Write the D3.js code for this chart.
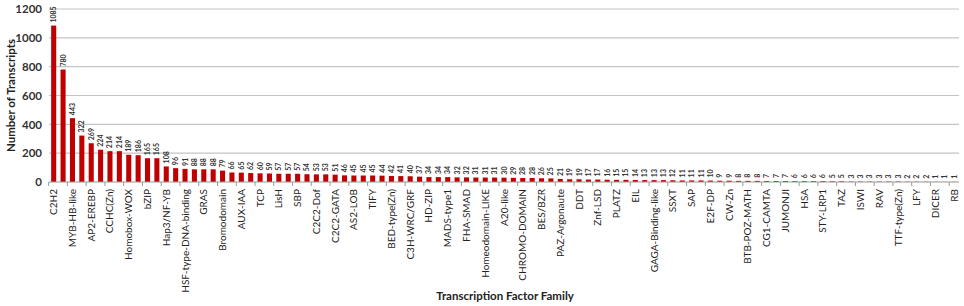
<!DOCTYPE html>
<html>
<head>
<meta charset="utf-8">
<script src="https://cdn.jsdelivr.net/npm/d3@7"></script>
<style>
  body { margin: 0; background: #fff; }
  text { font-family: Lato, "Liberation Sans", sans-serif; }
</style>
</head>
<body>
<div id="chart"></div>
<script>
// transcript counts per family, sorted, one per bar
var counts = [1085, 780, 443, 322, 269, 224, 214, 214, 189, 186, 165, 165, 108, 96, 91, 88, 88, 88, 79, 66,
  65, 62, 60, 59, 57, 57, 57, 54, 53, 53, 51, 46, 45, 45, 45, 44, 42, 41, 40, 37,
  34, 34, 34, 32, 32, 31, 31, 31, 30, 29, 28, 28, 26, 25, 21, 19, 19, 17, 17, 16,
  15, 15, 14, 13, 13, 13, 12, 11, 11, 11, 10, 9, 9, 8, 8, 8, 7, 7, 7, 6,
  6, 6, 6, 5, 5, 3, 3, 3, 3, 3, 3, 2, 2, 2, 1, 1, 1];

// only every second bar carries a name on the axis
var shownFamilies = ["C2H2", "MYB-HB-like", "AP2-EREBP", "CCHC(Zn)", "Homobox-WOX", "bZIP", "Hap3/NF-YB",
  "HSF-type-DNA-binding", "GRAS", "Bromodomain", "AUX-IAA", "TCP", "LisH", "SBP", "C2C2-Dof",
  "C2C2-GATA", "AS2-LOB", "TIFY", "BED-type(Zn)", "C3H-WRC/GRF", "HD-ZIP", "MADS-type1", "FHA-SMAD",
  "Homeodomain-LIKE", "A20-like", "CHROMO-DOMAIN", "BES/BZR", "PAZ-Argonaute", "DDT", "Znf-LSD",
  "PLATZ", "EIL", "GAGA-Binding-like", "SSXT", "SAP", "E2F-DP", "CW-Zn", "BTB-POZ-MATH", "CG1-CAMTA",
  "JUMONJI", "HSA", "STY-LRP1", "TAZ", "ISWI", "RAV", "TTF-type(Zn)", "LFY", "DICER", "RB"];

var yTicks = [0, 200, 400, 600, 800, 1000, 1200];

var W = 964, H = 306;
var margin = {top: 9, right: 5, bottom: 124, left: 49};
var width = W - margin.left - margin.right,
    height = H - margin.top - margin.bottom;

var svg = d3.select("#chart").append("svg")
    .attr("width", W).attr("height", H);

var g = svg.append("g")
    .attr("transform", "translate(" + margin.left + "," + margin.top + ")");

var x = d3.scaleBand()
    .domain(d3.range(counts.length))
    .range([0, width])
    .paddingInner(0.46)
    .paddingOuter(0.23);

var y = d3.scaleLinear()
    .domain([0, 1200])
    .range([height, 0]);

// gridlines
g.selectAll(".grid").data(yTicks.filter(function(d){ return d > 0; }))
  .enter().append("line")
    .attr("x1", 0).attr("x2", width)
    .attr("y1", function(d){ return y(d); })
    .attr("y2", function(d){ return y(d); })
    .attr("stroke", "#c4c4c4")
    .attr("stroke-width", 1.2);

// y axis labels
var yAxis = g.append("g")
    .call(d3.axisLeft(y).tickValues(yTicks).tickFormat(d3.format("d")).tickSize(0).tickPadding(7));
yAxis.select(".domain").remove();
yAxis.selectAll("text")
    .style("font-size", "11.5px")
    .style("font-weight", "bold")
    .attr("fill", "#333");

// bars
g.selectAll(".bar").data(counts)
  .enter().append("rect")
    .attr("x", function(d, i){ return x(i); })
    .attr("width", x.bandwidth())
    .attr("y", function(d){ return y(d); })
    .attr("height", function(d){ return height - y(d); })
    .attr("fill", "#c00000");

// value labels
g.selectAll(".val").data(counts)
  .enter().append("text")
    .attr("transform", function(d, i){
      return "translate(" + (x(i) + x.bandwidth() / 2 + 2.5) + "," + (y(d) - 3) + ") rotate(-90)";
    })
    .style("font-size", "7px")
    .style("font-weight", "bold")
    .attr("fill", "#333")
    .text(function(d){ return d; });

// baseline + ticks every two bars
g.append("line")
    .attr("x1", 0).attr("x2", width)
    .attr("y1", height).attr("y2", height)
    .attr("stroke", "#999").attr("stroke-width", 1.2);

var step = x.step();
g.selectAll(".tk").data(d3.range(0, counts.length + 1, 2))
  .enter().append("line")
    .attr("x1", function(i){ return i * step - step * 0.04; })
    .attr("x2", function(i){ return i * step - step * 0.04; })
    .attr("y1", height).attr("y2", height + 4)
    .attr("stroke", "#999");

// family names
g.selectAll(".fam").data(shownFamilies)
  .enter().append("text")
    .attr("transform", function(d, k){
      return "translate(" + (x(k * 2) + x.bandwidth() / 2 + 3.5) + "," + (height + 7) + ") rotate(-90)";
    })
    .attr("text-anchor", "end")
    .style("font-size", "10px")
    .attr("fill", "#222")
    .text(function(d){ return d; });

// axis titles
svg.append("text")
    .attr("transform", "translate(15," + (margin.top + height / 2) + ") rotate(-90)")
    .attr("text-anchor", "middle")
    .style("font-size", "11.5px")
    .style("font-weight", "bold")
    .attr("fill", "#222")
    .text("Number of Transcripts");

svg.append("text")
    .attr("x", 505).attr("y", 300)
    .attr("text-anchor", "middle")
    .style("font-size", "11.5px")
    .style("font-weight", "bold")
    .attr("fill", "#222")
    .text("Transcription Factor Family");
</script>
</body>
</html>
